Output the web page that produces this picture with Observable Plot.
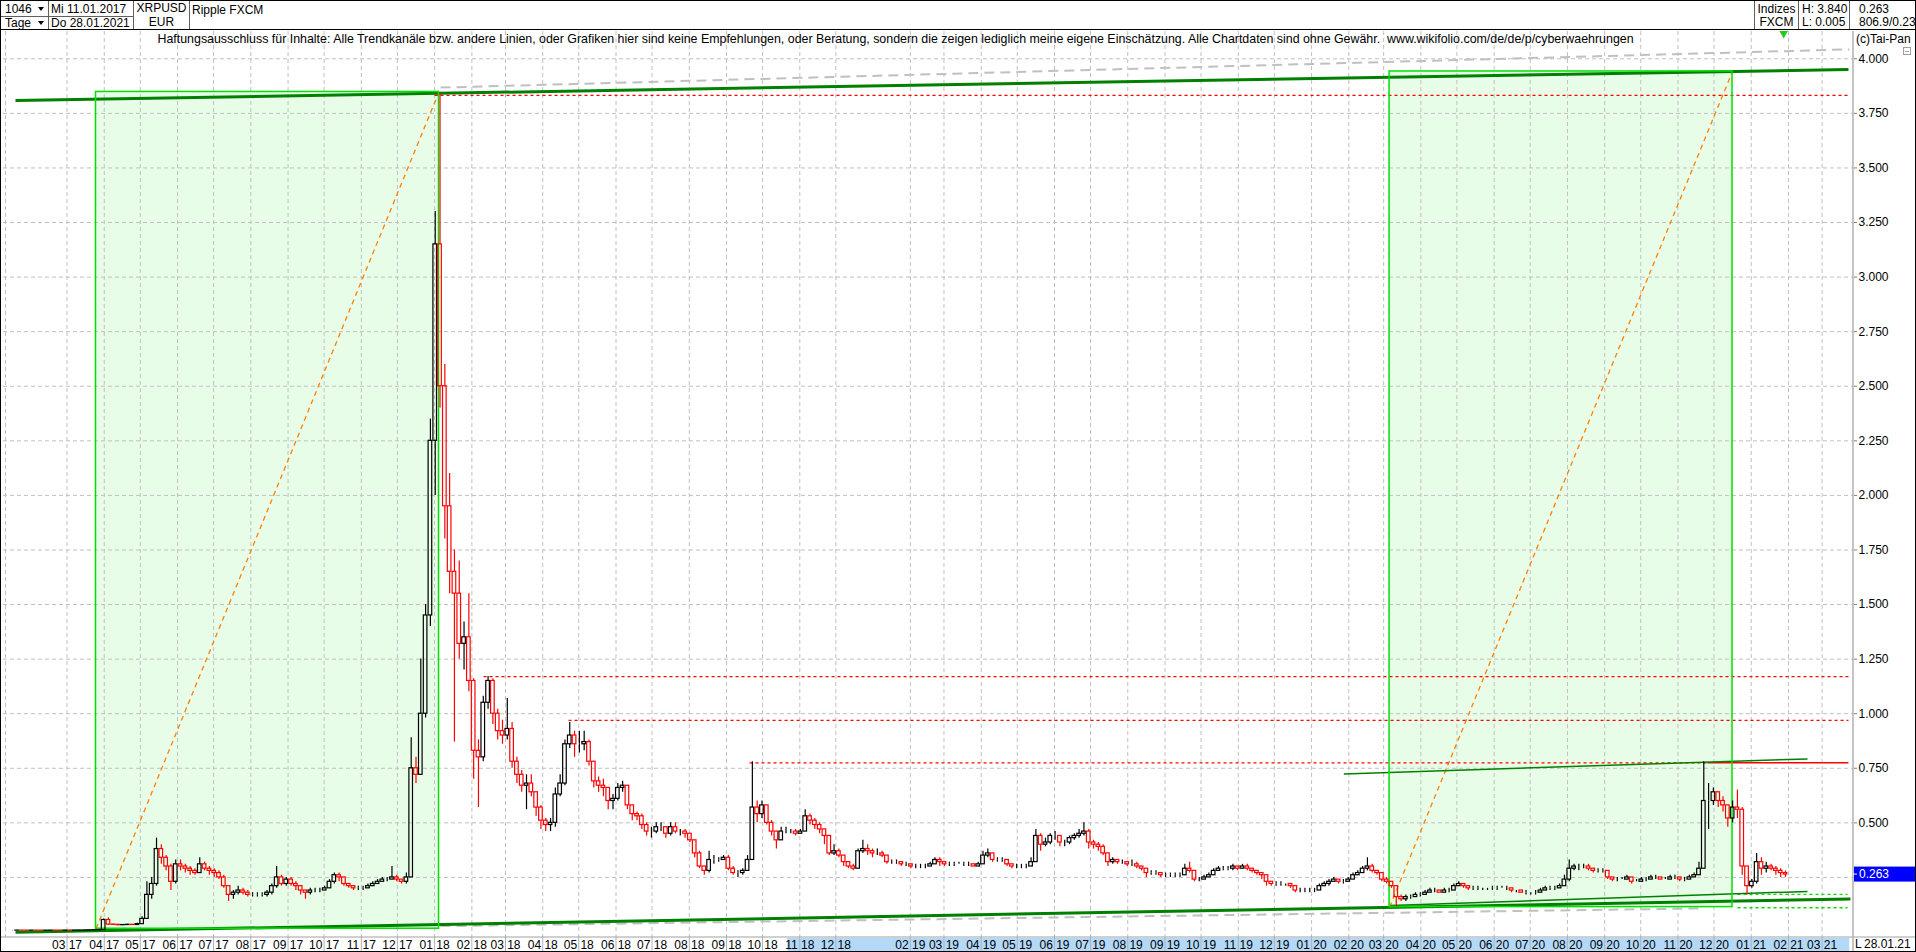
<!DOCTYPE html>
<html><head><meta charset="utf-8">
<script src="https://cdn.jsdelivr.net/npm/d3@7"></script>
<script src="https://cdn.jsdelivr.net/npm/@observablehq/plot@0.6"></script>
<style>
html,body{margin:0;padding:0;background:#fff;overflow:hidden}
body{width:1916px;height:952px;position:relative;font-family:Arial,"Liberation Sans",sans-serif;font-size:12px;color:#000}
.c{position:absolute;white-space:nowrap;line-height:14px;font-size:12px}
.ctr{text-align:center}
.vl{position:absolute;width:1px;background:#606060}
.hl{position:absolute;height:1px;background:#606060}
.tri{position:absolute;width:0;height:0;border-left:3.5px solid transparent;border-right:3.5px solid transparent;border-top:4px solid #000}
#chart{position:absolute;left:0;top:31px}
#frame{position:absolute;left:0;top:0;width:1916px;height:952px;box-sizing:border-box;border:1px solid #000;pointer-events:none}
</style></head><body>
<div id="hdr">
  <div class="c" style="left:5px;top:2px">1046</div><div class="tri" style="left:38px;top:7px"></div>
  <div class="c" style="left:5px;top:16px">Tage</div><div class="tri" style="left:38px;top:21px"></div>
  <div class="c" style="left:51px;top:2px">Mi 11.01.2017</div>
  <div class="c" style="left:51px;top:16px">Do 28.01.2021</div>
  <div class="c ctr" style="left:134px;width:55px;top:1px">XRPUSD</div>
  <div class="c ctr" style="left:134px;width:55px;top:15px">EUR</div>
  <div class="c" style="left:192px;top:3px">Ripple FXCM</div>
  <div class="vl" style="left:48px;top:0;height:30px"></div>
  <div class="vl" style="left:133px;top:0;height:30px"></div>
  <div class="vl" style="left:189px;top:0;height:30px"></div>
  <div class="hl" style="left:0;top:16px;width:133px"></div>
  <div class="c ctr" style="left:1755px;width:43px;top:2px">Indizes</div>
  <div class="c ctr" style="left:1755px;width:43px;top:15px">FXCM</div>
  <div class="c" style="left:1802px;top:2px">H: 3.840</div>
  <div class="c" style="left:1802px;top:15px">L: 0.005</div>
  <div class="c" style="left:1859px;top:2px">0.263</div>
  <div class="c" style="left:1859px;top:15px;width:56px;overflow:hidden">806.9/0.23</div>
  <div class="vl" style="left:1754px;top:0;height:30px"></div>
  <div class="vl" style="left:1798px;top:0;height:30px"></div>
  <div class="vl" style="left:1849px;top:0;height:30px"></div>
  <div class="hl" style="left:0;top:29px;width:1916px;background:#000"></div>
</div>
<div id="chart"></div>
<div class="c" style="left:1856px;top:32px">(c)Tai-Pan</div>
<div style="position:absolute;left:1903px;top:47px;width:8px;height:8px;border:1px solid #a0a0a0;box-sizing:border-box"><div style="position:absolute;left:1px;top:3px;width:4px;height:1px;background:#a0a0a0"></div></div>
<div class="c" style="left:1855px;top:937px">L</div>
<div class="c" style="left:1864px;top:937px">28.01.21</div>
<div id="frame"></div>
<script>
// ---------- price data: 4-day bars starting 13 Jan 2017 (open = previous close) ----------
const barStart = "2017-01-13";
const barStepDays = 4;
const firstOpen = 0.0065;
const closes = [
 .0065,.0066,.0064,.0063,.0064, .0063,.0062,.0063,.0065,.0064,.0063,.0064, .0062,.0063,.0064,.0066,.0075,.0078,.0090,.055,
 .034,.033,.031,.032,.033,.032,.036, .06,.17,.22,.38,.34,.30,.23,.31, .30,.29,.28,.27,.31,.29,.28,.27,
 .25,.21,.17,.18,.19,.18,.17, .17,.17,.17,.18,.21,.25,.22,.24, .22,.21,.19,.18,.19,.19,.19,.20,
 .23,.26,.25,.22,.21,.20,.20, .20,.21,.22,.23,.24,.24,.25,.24, .23,.25,.75,.72,1.00,1.45,2.25,3.15,
 2.50,1.95,1.65,1.55,1.32,1.35,1.15, .83,.80,1.05,1.15,1.00,.92,.90, .93,.78,.72,.67,.68,.64,.57,.51,
 .49,.50,.63,.68,.86,.90,.86,.86, .87,.78,.69,.67,.66,.60,.61, .66,.67,.58,.54,.53,.49,.46,.46,
 .48,.48,.45,.48,.46,.46,.45,.42, .36,.30,.28,.33,.33,.33,.34, .29,.27,.27,.28,.33,.57,.54,.58,
 .50,.46,.42,.46,.46,.46,.45,.46, .53,.51,.49,.47,.44,.36,.37, .35,.32,.30,.29,.37,.38,.37,.36,
 .36,.35,.32,.32,.32,.31,.31,.30, .30,.30,.30,.31,.33,.32,.31, .31,.31,.31,.31,.31,.30,.31,
 .35,.36,.33,.33,.33,.31,.30,.30, .30,.30,.32,.44,.40,.41,.44,.44, .41,.41,.43,.44,.45,.46,.41,
 .40,.39,.36,.32,.33,.32,.32,.31, .31,.30,.29,.27,.27,.27,.26,.26, .26,.26,.26,.29,.28,.24,.24,
 .25,.26,.28,.29,.29,.29,.30,.29, .30,.29,.28,.27,.26,.23,.22, .22,.22,.22,.21,.19,.19,.19,.19,
 .19,.21,.22,.23,.24,.23,.23,.24, .26,.27,.29,.30,.28,.27,.24, .23,.21,.16,.15,.16,.16,.17,.17,
 .18,.19,.19,.18,.19,.19,.21, .22,.21,.20,.20,.20,.20,.20,.20, .20,.20,.20,.19,.19,.18,.18,.18,
 .18,.19,.20,.20,.20,.21,.24, .29,.30,.30,.30,.29,.28,.28,.28, .25,.24,.24,.24,.25,.23,.23,.24,
 .24,.25,.25,.24,.24,.25,.25, .24,.24,.25,.26,.29,.60,.60,.64, .60,.58,.52,.57,.56,.30,.21,.23,
 .32,.29,.30,.29,.28,.27,.263
];
const highs = [
 .0068,.0069,.0068,.0066,.0067, .0066,.0065,.0066,.0068,.0067,.0066,.0067, .0065,.0066,.0067,.0070,.0080,.0085,.0100,.060,
 .065,.036,.034,.034,.035,.034,.040, .07,.23,.25,.43,.40,.35,.31,.33, .33,.31,.30,.29,.34,.32,.30,.29,
 .28,.26,.21,.19,.21,.20,.19, .18,.18,.18,.19,.22,.30,.26,.25, .25,.23,.21,.19,.20,.20,.20,.21,
 .24,.27,.27,.25,.22,.21,.21, .21,.22,.23,.24,.25,.25,.30,.26, .24,.27,.89,.80,1.25,1.50,2.35,3.30,
 3.84,2.60,2.10,1.75,1.70,1.42,1.55, 1.16,.88,1.08,1.17,1.16,1.02,.97, 1.07,.96,.80,.74,.72,.72,.64,.58,
 .52,.52,.66,.72,.88,.96,.92,.92, .92,.88,.78,.71,.70,.66,.63, .68,.69,.67,.56,.55,.54,.50,.48,
 .50,.50,.48,.50,.50,.47,.47,.45, .42,.37,.30,.37,.35,.34,.35, .35,.30,.28,.29,.35,.78,.60,.60,
 .58,.51,.46,.48,.48,.47,.47,.47, .56,.54,.52,.50,.47,.44,.40, .38,.35,.32,.31,.38,.42,.40,.38,
 .38,.37,.35,.33,.33,.32,.32,.31, .31,.31,.31,.32,.34,.34,.32, .32,.32,.32,.32,.32,.31,.32,
 .37,.38,.36,.34,.34,.33,.31,.31, .31,.31,.34,.47,.45,.43,.45,.46, .44,.42,.44,.45,.47,.50,.47,
 .42,.41,.40,.36,.34,.33,.33,.32, .33,.32,.30,.29,.28,.28,.27,.27, .27,.27,.27,.31,.32,.28,.25,
 .26,.27,.29,.30,.30,.30,.31,.30, .31,.31,.29,.28,.27,.26,.23, .23,.23,.22,.22,.21,.20,.20,.20,
 .20,.22,.23,.24,.25,.24,.24,.25, .27,.28,.30,.34,.31,.28,.27, .25,.23,.21,.17,.17,.17,.18,.18,
 .19,.20,.20,.19,.20,.20,.22, .23,.22,.21,.21,.21,.20,.20,.21, .21,.21,.21,.20,.19,.19,.19,.18,
 .19,.20,.21,.21,.21,.22,.26, .33,.31,.31,.31,.31,.29,.29,.29, .28,.25,.25,.25,.26,.25,.24,.25,
 .25,.26,.26,.25,.25,.26,.26, .25,.25,.26,.27,.32,.78,.68,.66, .64,.62,.58,.60,.65,.57,.29,.24,
 .36,.34,.32,.31,.30,.29,.28
];
const lows = [
 .0062,.0063,.0061,.0061,.0062, .0061,.0060,.0061,.0062,.0062,.0061,.0062, .0060,.0061,.0062,.0063,.0066,.0072,.0076,.0090,
 .030,.030,.029,.030,.031,.030,.031, .036,.06,.15,.21,.31,.28,.19,.22, .28,.27,.26,.26,.27,.28,.26,.25,
 .24,.20,.14,.15,.17,.17,.16, .16,.16,.16,.16,.17,.20,.21,.21, .21,.19,.17,.15,.17,.18,.18,.19,
 .20,.22,.23,.21,.20,.19,.19, .19,.20,.21,.22,.23,.23,.24,.23, .22,.22,.25,.68,.72,.98,1.40,2.00,
 2.40,1.80,1.55,.87,1.25,1.20,1.10, .70,.57,.78,1.02,.95,.88,.86, .88,.75,.68,.64,.56,.62,.53,.47,
 .46,.46,.48,.62,.67,.84,.80,.82, .83,.76,.66,.64,.62,.56,.56, .60,.64,.56,.51,.51,.47,.44,.43,
 .45,.46,.43,.44,.45,.44,.43,.41, .34,.29,.26,.27,.31,.32,.33, .28,.26,.25,.26,.28,.33,.50,.52,
 .49,.44,.38,.42,.45,.45,.44,.45, .46,.49,.47,.45,.40,.35,.35, .34,.30,.29,.28,.29,.36,.35,.34,
 .35,.34,.31,.31,.31,.30,.30,.29, .29,.29,.29,.30,.31,.30,.30, .30,.30,.31,.30,.30,.30,.30,
 .31,.34,.32,.32,.32,.30,.29,.29, .29,.29,.30,.32,.37,.39,.40,.42, .39,.39,.40,.42,.43,.44,.38,
 .38,.37,.35,.30,.31,.31,.31,.30, .30,.29,.28,.25,.26,.26,.25,.25, .25,.25,.25,.26,.27,.23,.23,
 .24,.25,.26,.28,.28,.28,.28,.28, .29,.28,.27,.26,.24,.21,.21, .21,.21,.21,.20,.18,.18,.18,.18,
 .18,.19,.21,.21,.23,.22,.22,.23, .24,.26,.27,.28,.27,.26,.23, .22,.20,.115,.14,.14,.15,.16,.16,
 .17,.18,.18,.18,.18,.18,.19, .21,.20,.19,.19,.19,.19,.19,.19, .19,.20,.19,.18,.18,.18,.17,.17,
 .17,.18,.19,.19,.19,.20,.21, .23,.28,.28,.29,.28,.27,.27,.27, .24,.23,.23,.24,.24,.22,.23,.23,
 .23,.24,.24,.24,.24,.24,.24, .23,.23,.24,.25,.26,.29,.47,.58, .57,.55,.48,.50,.52,.26,.17,.20,
 .22,.26,.27,.28,.26,.25,.25
];

// ---------- axes ----------
const xDomainIso = ["2017-01-07T03:00:00Z", "2021-03-27T03:00:00Z"];
const yDomain = [-0.0252, 4.125];
const yTicks = [0.25,0.5,0.75,1.0,1.25,1.5,1.75,2.0,2.25,2.5,2.75,3.0,3.25,3.5,3.75,4.0];
const yTicksHiddenLabel = [0.25];
const monthTicks = [
 "2017-03","2017-04","2017-05","2017-06","2017-07","2017-08","2017-09","2017-10","2017-11","2017-12",
 "2018-01","2018-02","2018-03","2018-04","2018-05","2018-06","2018-07","2018-08","2018-09","2018-10","2018-11","2018-12",
 "2019-02","2019-03","2019-04","2019-05","2019-06","2019-07","2019-08","2019-09","2019-10","2019-11","2019-12",
 "2020-01","2020-02","2020-03","2020-04","2020-05","2020-06","2020-07","2020-08","2020-09","2020-10","2020-11","2020-12",
 "2021-01","2021-02","2021-03"
];
const axisBand = ["2018-10-22", "2021-03-24"];
const lastPrice = 0.263;
const lastBarDate = "2021-01-28";

// ---------- drawn annotations (date, value) ----------
const boxes = [
 {d1: "2017-03-25T03:00:00Z", d2: "2018-01-04T16:00:00Z", v1: 0.015, v2: 3.848},
 {d1: "2020-03-05T22:00:00Z", d2: "2020-12-16T10:00:00Z", v1: 0.114, v2: 3.942}
];
const thickGreenLines = [
 ["2017-01-17T03:00:00Z", 3.809, "2021-03-22T22:00:00Z", 3.951],
 ["2017-01-17T03:00:00Z", -0.001, "2021-03-24T14:00:00Z", 0.151]
];
const thinGreenLines = [
 ["2020-01-27T20:00:00Z", 0.724, "2021-02-16T20:00:00Z", 0.793],
 ["2020-03-06T17:00:00Z", 0.121, "2021-02-16T20:00:00Z", 0.186]
];
const grayDashedLines = [
 ["2018-01-05T22:00:00Z", 3.868, "2021-03-23T17:00:00Z", 4.043],
 ["2018-01-05T22:00:00Z", 0.027, "2020-11-19T20:00:00Z", 0.108]
];
const redDottedLines = [
 ["2017-12-31T22:00:00Z", 3.832, "2021-03-22T22:00:00Z", 3.832],
 ["2018-02-10T17:00:00Z", 1.170, "2021-03-22T22:00:00Z", 1.170],
 ["2018-04-22T12:00:00Z", 0.969, "2021-03-22T22:00:00Z", 0.969],
 ["2018-09-20T03:00:00Z", 0.775, "2020-11-25T14:00:00Z", 0.775]
];
const redSolidLines = [
 ["2020-11-25T14:00:00Z", 0.775, "2021-03-22T22:00:00Z", 0.775]
];
const greenDashedLines = [
 ["2020-12-20T14:00:00Z", 0.172, "2021-03-22T03:00:00Z", 0.172],
 ["2020-12-20T14:00:00Z", 0.111, "2021-03-22T03:00:00Z", 0.111]
];
const disclaimer = "Haftungsausschluss für Inhalte: Alle Trendkanäle bzw. andere Linien, oder Grafiken hier sind keine Empfehlungen, oder Beratung, sondern die zeigen lediglich meine eigene Einschätzung. Alle Chartdaten sind ohne Gewähr.  www.wikifolio.com/de/de/p/cyberwaehrungen";

// ---------- build ----------
const DAY = 864e5;
const T = s => new Date(s.length <= 7 ? s + "-01T00:00:00Z" : (s.length === 10 ? s + "T00:00:00Z" : s));
const t0 = +T(barStart);
const bars = closes.map((c, i) => {
  const o = i ? closes[i - 1] : firstOpen;
  const mid = t0 + (i * barStepDays + 1.5) * DAY;
  return {
    x: new Date(mid), x1: new Date(mid - 1.5 * DAY), x2: new Date(mid + 1.5 * DAY),
    open: o, close: c,
    high: Math.max(highs[i], o, c), low: Math.min(lows[i], o, c),
    top: Math.max(o, c), bot: Math.min(o, c), up: c >= o
  };
});
const up = bars.filter(d => d.up), down = bars.filter(d => !d.up);
const seg = a => a.map(([d1, v1, d2, v2]) => ({d1: T(d1), v1, d2: T(d2), v2}));
const boxData = boxes.map(b => ({d1: T(b.d1), d2: T(b.d2), v1: b.v1, v2: b.v2}));
const monthDates = monthTicks.map(T);
const xDomain = xDomainIso.map(T);
const link = (data, opts) => Plot.link(seg(data), {x1: "d1", y1: "v1", x2: "d2", y2: "v2", ...opts});
const diagonals = boxes.map(b => [b.d1, b.v1, b.d2, b.v2]);
const fmtY = d3.format(".3f");

const plot = Plot.plot({
  width: 1916, height: 921,
  marginLeft: 3, marginRight: 63, marginTop: 0, marginBottom: 15,
  style: {fontFamily: "Arial, 'Liberation Sans', sans-serif", fontSize: "12px", background: "transparent", color: "#000", overflow: "visible"},
  x: {type: "utc", domain: xDomain},
  y: {domain: yDomain},
  marks: [
    Plot.rect(boxData, {x1: "d1", x2: "d2", y1: "v1", y2: "v2", fill: "#e8fde8"}),
    Plot.gridY(yTicks, {stroke: "#c0c0c0", strokeOpacity: 1, strokeDasharray: "4,3"}),
    Plot.gridX(monthDates, {stroke: "#c0c0c0", strokeOpacity: 1, strokeDasharray: "4,3"}),
    Plot.ruleX([xDomain[0]], {dx: 2, stroke: "#c0c0c0", strokeDasharray: "4,3"}),
    link(diagonals, {stroke: "#ff8000", strokeWidth: 1.3, strokeDasharray: "5,4"}),
    link(grayDashedLines, {stroke: "#c0c0c0", strokeWidth: 2, strokeDasharray: "10,6"}),
    link(redDottedLines, {stroke: "#ff0000", strokeWidth: 1.3, strokeDasharray: "3,3"}),
    link(redSolidLines, {stroke: "#ff0000", strokeWidth: 1.5}),
    link(greenDashedLines, {stroke: "#00e000", strokeWidth: 1.3, strokeDasharray: "3,3"}),
    link(thinGreenLines, {stroke: "#008000", strokeWidth: 1.5}),
    link(thickGreenLines, {stroke: "#008000", strokeWidth: 3}),
    Plot.rect(boxData, {x1: "d1", x2: "d2", y1: "v1", y2: "v2", fill: "none", stroke: "#00e000", strokeWidth: 1.5}),
    Plot.ruleX(up, {x: "x", y1: "high", y2: "top", stroke: "#000", strokeWidth: 1.2}),
    Plot.ruleX(up, {x: "x", y1: "bot", y2: "low", stroke: "#000", strokeWidth: 1.2}),
    Plot.rect(up, {x1: "x1", x2: "x2", y1: "bot", y2: "top", fill: "none", stroke: "#000", strokeWidth: 1.2}),
    Plot.ruleX(down, {x: "x", y1: "high", y2: "top", stroke: "#ff0000", strokeWidth: 1.2}),
    Plot.ruleX(down, {x: "x", y1: "bot", y2: "low", stroke: "#ff0000", strokeWidth: 1.2}),
    Plot.rect(down, {x1: "x1", x2: "x2", y1: "bot", y2: "top", fill: "none", stroke: "#ff0000", strokeWidth: 1.2}),
    Plot.dot([T(lastBarDate)], {x: d => d, y: () => yDomain[1], symbol: "triangle", rotate: 180, r: 3.2, fill: "#22cc22", stroke: "none", dy: 2}),
    Plot.text([disclaimer], {text: d => d, frameAnchor: "top-left", dx: 154, dy: 2.5, lineAnchor: "top", textAnchor: "start", fill: "#000", fontSize: 12.4}),
    Plot.axisY(yTicks, {anchor: "right", tickFormat: d => yTicksHiddenLabel.includes(d) ? "" : fmtY(d), tickSize: 3, tickPadding: 2, stroke: "#808080", fill: "#000", label: null, fontSize: 12}),
    Plot.axisX(monthDates, {anchor: "bottom", tickFormat: d3.utcFormat("%m %y"), tickSize: 14, tickPadding: -11, stroke: "#a8b4c0", fill: "#000", label: null, fontSize: 12})
  ]
});
document.getElementById("chart").appendChild(plot);

// chrome placed through the same scales
const svg = d3.select(plot);
const X = v => plot.scale("x").apply(v);
const Y = v => plot.scale("y").apply(v);
const bx1 = X(T(axisBand[0])), bx2 = X(T(axisBand[1]));
svg.insert("rect", "g").attr("x", bx1).attr("y", 907).attr("width", bx2 - bx1).attr("height", 13).attr("fill", "#b4d9f8");
svg.append("line").attr("x1", 0).attr("x2", 1916).attr("y1", 906).attr("y2", 906).attr("stroke", "#a0a0a0");
svg.append("line").attr("x1", 1853).attr("x2", 1853).attr("y1", 0).attr("y2", 921).attr("stroke", "#b0b0b0").attr("stroke-width", 1.5);
const yp = Y(lastPrice);
svg.append("rect").attr("x", 1854).attr("y", yp - 7.5).attr("width", 62).attr("height", 15).attr("fill", "#0000ff");
svg.append("line").attr("x1", 1853).attr("x2", 1857).attr("y1", yp).attr("y2", yp).attr("stroke", "#fff");
svg.append("text").attr("x", 1859).attr("y", yp).attr("dy", "0.35em").attr("text-anchor", "start")
  .attr("fill", "#fff").attr("font-size", 12).text(fmtY(lastPrice));
</script>
</body></html>
